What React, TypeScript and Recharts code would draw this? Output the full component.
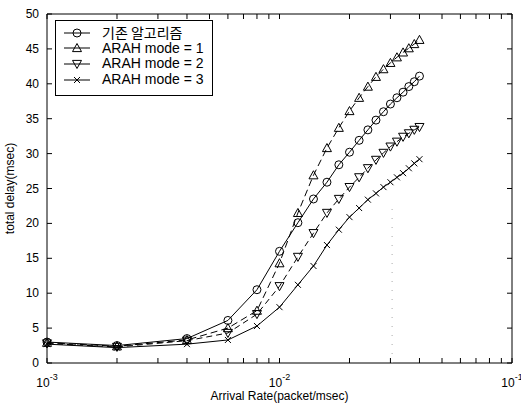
import { LineChart, Line, XAxis, YAxis, ReferenceArea, ReferenceLine } from 'recharts'

// arrival rate (packet/msec)
const rates = [0.001, 0.002, 0.004, 0.006, 0.008, 0.01, 0.012, 0.014, 0.016, 0.018, 0.02,
  0.022, 0.024, 0.026, 0.028, 0.03, 0.032, 0.034, 0.036, 0.038, 0.04]

// total delay (msec)
const baseline = [3.0, 2.5, 3.5, 6.1, 10.5, 16.0, 20.1, 23.5, 25.9, 28.4, 30.2,
  31.9, 33.4, 34.8, 36.0, 37.1, 38.0, 38.8, 39.6, 40.3, 41.1]
const mode1 = [2.9, 2.4, 3.3, 5.0, 7.5, 14.3, 21.5, 26.9, 30.8, 33.7, 36.1,
  38.0, 39.6, 41.0, 42.1, 43.0, 43.8, 44.5, 45.1, 45.7, 46.3]
const mode2 = [2.8, 2.3, 3.2, 4.3, 7.0, 11.0, 15.2, 18.6, 21.5, 23.5, 25.2,
  26.6, 27.9, 29.1, 30.1, 31.0, 31.7, 32.4, 32.9, 33.4, 33.8]
const mode3 = [2.7, 2.2, 2.7, 3.3, 5.3, 8.0, 11.2, 13.9, 16.9, 19.1, 20.9,
  22.2, 23.4, 24.3, 25.2, 25.9, 26.6, 27.2, 27.9, 28.6, 29.2]

const seriesNames = ['기존 알고리즘', 'ARAH mode = 1', 'ARAH mode = 2', 'ARAH mode = 3']

const xTicks = [0.001, 0.002, 0.003, 0.004, 0.005, 0.006, 0.007, 0.008, 0.009,
  0.01, 0.02, 0.03, 0.04, 0.05, 0.06, 0.07, 0.08, 0.09, 0.1]
const yTicks = [0, 5, 10, 15, 20, 25, 30, 35, 40, 45, 50]

const data = rates.map((x, i) => ({ x, base: baseline[i], m1: mode1[i], m2: mode2[i], m3: mode3[i] }))

const W = 521
const H = 403
const M = { top: 14, right: 9, bottom: 0, left: 0 }
const XAXIS_H = 40
const YAXIS_W = 47
const PLOT_H = H - M.top - M.bottom - XAXIS_H
const PLOT_W = W - M.left - M.right - YAXIS_W
const FONT = '"Liberation Sans", Arial, sans-serif'
const TICK = 5

type Shape = 'circle' | 'up' | 'down' | 'x'

function Marker({ cx, cy, shape }: { cx: number; cy: number; shape: Shape }) {
  const s = 4.5
  if (shape === 'circle') return <circle cx={cx} cy={cy} r={4} fill="none" stroke="#000" strokeWidth={1} />
  if (shape === 'up')
    return <polygon points={`${cx},${cy - s} ${cx - s},${cy + s * 0.8} ${cx + s},${cy + s * 0.8}`} fill="none" stroke="#000" strokeWidth={1} />
  if (shape === 'down')
    return <polygon points={`${cx},${cy + s} ${cx - s},${cy - s * 0.8} ${cx + s},${cy - s * 0.8}`} fill="none" stroke="#000" strokeWidth={1} />
  return (
    <g stroke="#000" strokeWidth={1}>
      <line x1={cx - 3} y1={cy - 3} x2={cx + 3} y2={cy + 3} />
      <line x1={cx - 3} y1={cy + 3} x2={cx + 3} y2={cy - 3} />
    </g>
  )
}

const dotFn = (shape: Shape) => (p: any) =>
  <Marker key={`${shape}-${p.index}`} cx={p.cx} cy={p.cy} shape={shape} />

function XTick(p: any) {
  const { x, y, payload } = p
  const lg = Math.log10(payload.value)
  const e = Math.round(lg)
  const decade = Math.abs(lg - e) < 1e-6
  return (
    <g>
      <line x1={x} y1={y} x2={x} y2={y - TICK} stroke="#000" />
      <line x1={x} y1={y - PLOT_H} x2={x} y2={y - PLOT_H + TICK} stroke="#000" />
      {decade && (
        <text x={x} y={y + 24} textAnchor="middle" fontFamily={FONT} fontSize={12} fill="#000">
          10<tspan dy={-7} fontSize={9}>{e}</tspan>
        </text>
      )}
    </g>
  )
}

function YTick(p: any) {
  const { x, y, payload } = p
  return (
    <g>
      <line x1={x} y1={y} x2={x + TICK} y2={y} stroke="#000" />
      <line x1={x + PLOT_W} y1={y} x2={x + PLOT_W - TICK} y2={y} stroke="#000" />
      <text x={x - 8} y={y + 4} textAnchor="end" fontFamily={FONT} fontSize={12} fill="#000">
        {payload.value}
      </text>
    </g>
  )
}

const shapes: Shape[] = ['circle', 'up', 'down', 'x']

function LegendBox() {
  return (
    <div
      style={{
        position: 'absolute', left: 55, top: 20, width: 156, height: 70,
        border: '1px solid #000', background: '#fff', paddingTop: 4, boxSizing: 'content-box',
      }}
    >
      {seriesNames.map((name, i) => (
        <div key={name} style={{ display: 'flex', alignItems: 'center', height: 15.6 }}>
          <svg width={40} height={14} style={{ marginLeft: 6, flex: 'none' }}>
            <line x1={2} y1={7} x2={28} y2={7} stroke="#000" />
            <Marker cx={15} cy={7} shape={shapes[i]} />
          </svg>
          <span
            style={{
              fontFamily: i === 0 ? '"Noto Sans CJK KR", sans-serif' : FONT,
              fontSize: 14, lineHeight: '13px', height: 13, color: '#000', whiteSpace: 'nowrap',
            }}
          >
            {name}
          </span>
        </div>
      ))}
    </div>
  )
}

export default function App() {
  return (
    <div style={{ position: 'absolute', left: 0, top: 0, width: W, height: H, background: '#fff' }}>
      <LineChart width={W} height={H} data={data} margin={M}>
        <XAxis
          dataKey="x" type="number" scale="log" domain={[0.001, 0.1]} ticks={xTicks} interval={0}
          height={XAXIS_H} axisLine={false} tickLine={false} tickSize={0} tickMargin={0}
          tick={(p: any) => <XTick {...p} />}
          label={{ value: 'Arrival Rate(packet/msec)', position: 'insideBottom', offset: 3, fontSize: 12, fontFamily: FONT, fill: '#000' }}
        />
        <YAxis
          type="number" domain={[0, 50]} ticks={yTicks} interval={0} width={YAXIS_W}
          axisLine={false} tickLine={false} tickSize={0} tickMargin={0}
          tick={(p: any) => <YTick {...p} />}
          label={{ value: 'total delay(msec)', angle: -90, position: 'insideLeft', offset: 10, fontSize: 12, fontFamily: FONT, fill: '#000', style: { textAnchor: 'middle' } }}
        />
        <ReferenceArea x1={0.001} x2={0.1} y1={0} y2={50} fill="none" stroke="#000" strokeWidth={1} />
        <ReferenceLine
          segment={[{ x: 0.0305, y: 0 }, { x: 0.0305, y: 23 }]}
          stroke="#aaa" strokeDasharray="1 8"
        />
        <Line dataKey="base" type="linear" stroke="#000" strokeWidth={1} dot={dotFn('circle')} isAnimationActive={false} />
        <Line dataKey="m1" type="linear" stroke="#000" strokeWidth={1} strokeDasharray="7 4" dot={dotFn('up')} isAnimationActive={false} />
        <Line dataKey="m2" type="linear" stroke="#000" strokeWidth={1} strokeDasharray="6 4" dot={dotFn('down')} isAnimationActive={false} />
        <Line dataKey="m3" type="linear" stroke="#000" strokeWidth={1} dot={dotFn('x')} isAnimationActive={false} />
      </LineChart>
      <LegendBox />
    </div>
  )
}
